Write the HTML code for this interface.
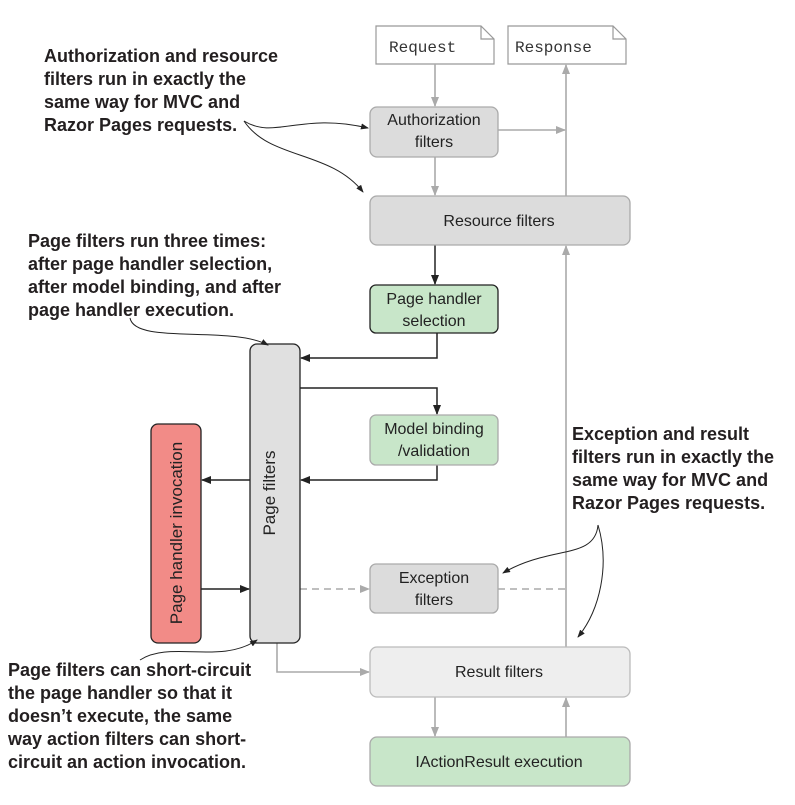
<!DOCTYPE html>
<html><head><meta charset="utf-8"><style>
html,body{margin:0;padding:0;background:#fff;}
svg{display:block;}
.a{font-family:"Liberation Sans Narrow","Liberation Sans",sans-serif;font-weight:bold;font-size:18px;fill:#231f20;}
.b{font-family:"Liberation Sans",sans-serif;font-size:16px;fill:#222;}
.r{font-family:"Liberation Sans",sans-serif;font-size:17px;fill:#222;}
.m{font-family:"Liberation Mono",monospace;font-size:16px;fill:#333;}
</style></head><body>
<svg width="795" height="805" viewBox="0 0 795 805" xmlns="http://www.w3.org/2000/svg">
<defs>
<marker id="k" markerWidth="10" markerHeight="8" refX="9" refY="4" orient="auto" markerUnits="userSpaceOnUse"><path d="M0,0 L10,4 L0,8 z" fill="#222"/></marker>
<marker id="g" markerWidth="10" markerHeight="8" refX="9" refY="4" orient="auto" markerUnits="userSpaceOnUse"><path d="M0,0 L10,4 L0,8 z" fill="#aaa"/></marker>
<marker id="s" markerWidth="8" markerHeight="6" refX="7" refY="3" orient="auto" markerUnits="userSpaceOnUse"><path d="M0,0 L8,3 L0,6 z" fill="#222"/></marker>
</defs>
<path d="M376,26 H481 L494,39 V64 H376 Z M481,26 V39 H494" fill="#fff" stroke="#999" stroke-width="1.2"/>
<text class="m" x="389" y="52">Request</text>
<path d="M508,26 H613 L626,39 V64 H508 Z M613,26 V39 H626" fill="#fff" stroke="#999" stroke-width="1.2"/>
<text class="m" x="515" y="52">Response</text>
<g stroke="#aaa" stroke-width="1.6" fill="none">
<line x1="435" y1="64" x2="435" y2="106" marker-end="url(#g)"/>
<line x1="435" y1="157" x2="435" y2="195" marker-end="url(#g)"/>
<line x1="498" y1="130" x2="565" y2="130" marker-end="url(#g)"/>
<line x1="566" y1="196" x2="566" y2="65" marker-end="url(#g)"/>
<line x1="566" y1="647" x2="566" y2="246" marker-end="url(#g)"/>
<line x1="435" y1="697" x2="435" y2="736" marker-end="url(#g)"/>
<line x1="566" y1="737" x2="566" y2="698" marker-end="url(#g)"/>
<polyline points="277,643 277,672 369,672" marker-end="url(#g)"/>
<line x1="300" y1="589" x2="369" y2="589" stroke-dasharray="7,5" marker-end="url(#g)"/>
<line x1="498" y1="589" x2="566" y2="589" stroke-dasharray="7,5"/>
</g>
<g stroke="#222" stroke-width="1.5" fill="none">
<line x1="435" y1="245" x2="435" y2="284" marker-end="url(#k)"/>
<polyline points="437,333 437,358 301,358" marker-end="url(#k)"/>
<polyline points="300,388 437,388 437,414" marker-end="url(#k)"/>
<polyline points="437,465 437,480 301,480" marker-end="url(#k)"/>
<line x1="250" y1="480" x2="202" y2="480" marker-end="url(#k)"/>
<line x1="201" y1="589" x2="249" y2="589" marker-end="url(#k)"/>
</g>
<rect x="370" y="107" width="128" height="50" rx="7" fill="#dcdcdc" stroke="#aaa" stroke-width="1.3"/>
<text class="b" x="434" y="125" text-anchor="middle">Authorization</text>
<text class="b" x="434" y="147" text-anchor="middle">filters</text>
<rect x="370" y="196" width="260" height="49" rx="7" fill="#dcdcdc" stroke="#aaa" stroke-width="1.3"/>
<text class="b" x="499" y="226" text-anchor="middle">Resource filters</text>
<rect x="370" y="285" width="128" height="48" rx="6" fill="#c8e6c9" stroke="#222" stroke-width="1.3"/>
<text class="b" x="434" y="304" text-anchor="middle">Page handler</text>
<text class="b" x="434" y="326" text-anchor="middle">selection</text>
<rect x="250" y="344" width="50" height="299" rx="7" fill="#e0e0e0" stroke="#222" stroke-width="1.3"/>
<text class="r" x="281" y="493" text-anchor="middle" transform="rotate(-90 281 493)" dy="-6">Page filters</text>
<rect x="370" y="415" width="128" height="50" rx="6" fill="#c8e6c9" stroke="#aaa" stroke-width="1.3"/>
<text class="b" x="434" y="434" text-anchor="middle">Model binding</text>
<text class="b" x="434" y="456" text-anchor="middle">/validation</text>
<rect x="151" y="424" width="50" height="219" rx="7" fill="#f28b87" stroke="#222" stroke-width="1.3"/>
<text class="r" x="176" y="533" text-anchor="middle" transform="rotate(-90 176 533)" dy="6">Page handler invocation</text>
<rect x="370" y="564" width="128" height="49" rx="6" fill="#dcdcdc" stroke="#aaa" stroke-width="1.3"/>
<text class="b" x="434" y="583" text-anchor="middle">Exception</text>
<text class="b" x="434" y="605" text-anchor="middle">filters</text>
<rect x="370" y="647" width="260" height="50" rx="7" fill="#eeeeee" stroke="#bbb" stroke-width="1.3"/>
<text class="b" x="499" y="677" text-anchor="middle">Result filters</text>
<rect x="370" y="737" width="260" height="49" rx="7" fill="#c8e6c9" stroke="#aaa" stroke-width="1.3"/>
<text class="b" x="499" y="767" text-anchor="middle">IActionResult execution</text>
<g stroke="#222" stroke-width="1" fill="none">
<path d="M244,121 C275,140 300,112 368,128" marker-end="url(#s)"/>
<path d="M244,121 C270,160 330,150 363,192" marker-end="url(#s)"/>
<path d="M130,318 C135,345 230,325 268,345" marker-end="url(#s)"/>
<path d="M140,660 C170,640 220,665 257,640" marker-end="url(#s)"/>
<path d="M598,525 C595,560 550,545 503,573" marker-end="url(#s)"/>
<path d="M598,525 C610,565 600,610 578,637" marker-end="url(#s)"/>
</g>
<text class="a"><tspan x="44" y="62">Authorization and resource</tspan><tspan x="44" y="85">filters run in exactly the</tspan><tspan x="44" y="108">same way for MVC and</tspan><tspan x="44" y="131">Razor Pages requests.</tspan></text>
<text class="a"><tspan x="28" y="247">Page filters run three times:</tspan><tspan x="28" y="270">after page handler selection,</tspan><tspan x="28" y="293">after model binding, and after</tspan><tspan x="28" y="316">page handler execution.</tspan></text>
<text class="a"><tspan x="8" y="676">Page filters can short-circuit</tspan><tspan x="8" y="699">the page handler so that it</tspan><tspan x="8" y="722">doesn’t execute, the same</tspan><tspan x="8" y="745">way action filters can short-</tspan><tspan x="8" y="768">circuit an action invocation.</tspan></text>
<text class="a"><tspan x="572" y="440">Exception and result</tspan><tspan x="572" y="463">filters run in exactly the</tspan><tspan x="572" y="486">same way for MVC and</tspan><tspan x="572" y="509">Razor Pages requests.</tspan></text>
</svg>
</body></html>
